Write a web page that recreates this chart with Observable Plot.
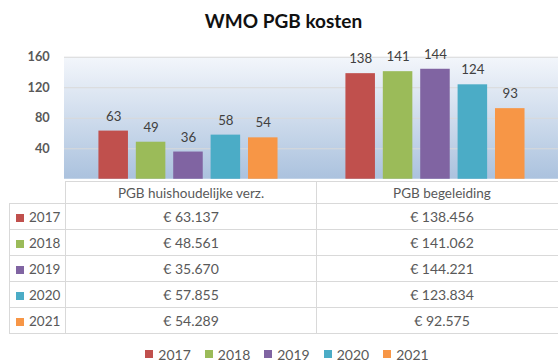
<!DOCTYPE html>
<html>
<head>
<meta charset="utf-8">
<script src="https://cdn.jsdelivr.net/npm/d3@7"></script>
<script src="https://cdn.jsdelivr.net/npm/@observablehq/plot@0.6"></script>
<style>
  body { margin: 0; overflow: hidden; background: #fff; font-family: Lato, "Open Sans", sans-serif; }
  #wrap { position: relative; width: 558px; height: 361px; overflow: hidden; }
  #title { position: absolute; top: 9px; left: 0; width: 567px; text-align: center;
           font-weight: bold; font-size: 19px; color: #111; }
  #chart { position: absolute; top: 40px; left: 0; }
  #tbl { position: absolute; top: 181px; left: 9px; border-collapse: collapse; table-layout: fixed;
         font-size: 14px; color: #595959; }
  #tbl td, #tbl th { border: 1px solid #d9d9d9; padding: 0; text-align: center; font-weight: normal; }
  #tbl th { height: 21px; font-size: 13.5px; }
  #tbl td { height: 25px; }
  #tbl th.corner { border: none; border-right: 1px solid #d9d9d9; }
  #tbl td.yr { text-align: left; padding-left: 6px; font-size: 13.5px; }
  #tbl .sq { display: inline-block; width: 8px; height: 8px; margin-right: 5px; vertical-align: 0px; }
  #legend { position: absolute; top: 344px; left: 0; width: 574px; display: flex; justify-content: center; }
  .yrs-swatches { font-family: Lato, sans-serif !important; font-size: 14px !important; color: #595959; margin: 0 !important; }
  .yrs-swatches-wrap { min-height: 20px !important; }
  .yrs-swatch { margin-right: 14px !important; }
  .yrs-swatch:last-child { margin-right: 0 !important; }
  .yrs-swatch > svg { margin-right: 5px !important; }
</style>
</head>
<body>
<div id="wrap">
  <div id="title">WMO PGB kosten</div>
  <div id="chart"></div>
  <table id="tbl"></table>
  <div id="legend"></div>
</div>
<script>
// Kosten per regeling (in euro's) per jaar
const categories = ["PGB huishoudelijke verz.", "PGB begeleiding"];
const years = ["2017", "2018", "2019", "2020", "2021"];
const huishoudelijk = [63137, 48561, 35670, 57855, 54289];
const begeleiding = [138456, 141062, 144221, 123834, 92575];
const yearColors = ["#C0504D", "#9BBB59", "#8064A2", "#4BACC6", "#F79646"];
const yTicks = [40, 80, 120, 160];

const series = [huishoudelijk, begeleiding];
const rows = categories.flatMap((category, c) =>
  years.map((year, i) => ({category, year, euro: series[c][i], k: series[c][i] / 1000}))
);

const euro = d3.formatLocale({decimal: ",", thousands: ".", grouping: [3], currency: ["€ ", ""]}).format("$,");

const chart = Plot.plot({
  width: 567,
  height: 141,
  marginTop: 17,
  marginBottom: 0,
  marginLeft: 65,
  marginRight: 0,
  style: {fontFamily: "Lato, sans-serif", overflow: "visible"},
  fx: {domain: categories, padding: 0, axis: null},
  x: {domain: years, paddingInner: 0.22, paddingOuter: 0.876, axis: null},
  y: {domain: [0, 160]},
  color: {domain: years, range: yearColors},
  marks: [
    Plot.gridY(yTicks, {stroke: "#d9d9d9", strokeOpacity: 1, strokeWidth: 1.2}),
    Plot.axisY(yTicks, {tickSize: 0, tickPadding: 15, fontSize: 13, fontWeight: "bold", fill: "#595959", label: null}),
    Plot.barY(rows, {fx: "category", x: "year", y: "k", fill: "year"}),
    Plot.text(rows, {fx: "category", x: "year", y: "k", text: d => Math.round(d.k), dy: -15,
                     fontSize: 13.5, fill: "#404040"})
  ]
});

// one continuous gradient panel behind both category facets
const fx = chart.scale("fx");
const yScale = chart.scale("y");
const svg = d3.select(chart);
const defs = svg.insert("defs", ":first-child");
const grad = defs.append("linearGradient").attr("id", "plotBg")
  .attr("x1", 0).attr("y1", 0).attr("x2", 0).attr("y2", 1);
grad.append("stop").attr("offset", "0%").attr("stop-color", "#f3f6fb");
grad.append("stop").attr("offset", "100%").attr("stop-color", "#abc2de");
const [x0, x1] = fx.range;
const [yBottom, yTop] = yScale.range;
svg.insert("rect", "defs + *")
  .attr("x", x0).attr("width", x1 - x0)
  .attr("y", yTop).attr("height", yBottom - yTop)
  .attr("fill", "url(#plotBg)");

document.getElementById("chart").append(chart);

// data table aligned with the category bands
const color = chart.scale("color");
const bandW = fx.bandwidth;
const firstColW = fx.apply(categories[0]) - 9;

const table = d3.select("#tbl").style("width", `${firstColW + 2 * bandW}px`);
const cg = table.append("colgroup");
cg.append("col").style("width", `${firstColW}px`);
categories.forEach(() => cg.append("col").style("width", `${bandW}px`));
const head = table.append("thead").append("tr");
head.append("th").attr("class", "corner");
categories.forEach(c => head.append("th").text(c));
const body = table.append("tbody");
years.forEach((year, i) => {
  const tr = body.append("tr");
  const td = tr.append("td").attr("class", "yr");
  td.append("span").attr("class", "sq").style("background", color.apply(year));
  td.append("span").text(year);
  series.forEach(s => tr.append("td").text(euro(s[i])));
});

document.getElementById("legend").append(
  chart.legend("color", {swatchSize: 8, className: "yrs"})
);
</script>
</body>
</html>
